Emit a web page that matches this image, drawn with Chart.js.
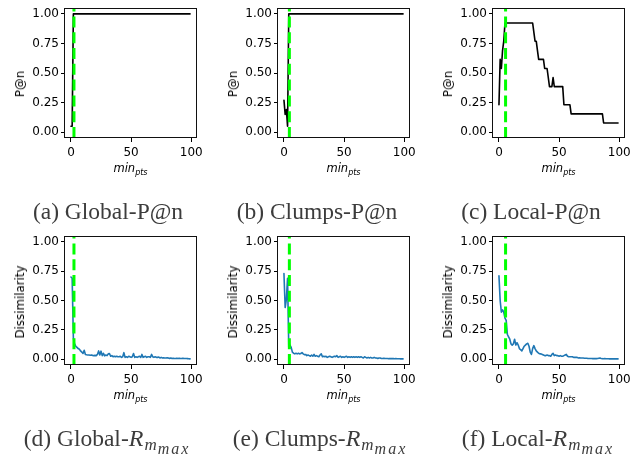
<!DOCTYPE html>
<html>
<head>
<meta charset="utf-8">
<script src="https://cdn.jsdelivr.net/npm/chart.js@4.4.0/dist/chart.umd.min.js"></script>
<style>
  html, body { margin:0; padding:0; background:#fff; }
  body { width:644px; height:458px; position:relative; overflow:hidden; }
  canvas { position:absolute; }
  .ylab { position:absolute; font-family:"DejaVu Sans"; font-size:11.8px; color:#000; white-space:nowrap;
          transform:translate(-50%,-50%) rotate(-90deg); line-height:12px; }
  .xlab { position:absolute; font-family:"DejaVu Sans"; font-size:11.5px; font-style:italic; color:#000;
          white-space:nowrap; line-height:11.5px; transform:translateX(-50%); }
  .xlab .sub { font-size:8px; position:relative; top:2.5px; }
  .cap { position:absolute; font-family:"Liberation Serif"; font-size:23.5px; color:#3c3c3c; white-space:nowrap;
         line-height:22px; transform:translateX(-50%); }
  .cap .r { font-style:italic; font-size:24px; letter-spacing:1px; }
  .cap .s1 { font-size:17px; position:relative; top:4.5px; font-style:italic; letter-spacing:1px; }
  .cap .s2 { font-size:16px; position:relative; top:8.5px; font-style:italic; letter-spacing:2px; }
</style>
</head>
<body>
<script>
// ---- data ----
const minPts = [0,1,2,3,4,5,6,7,8,9,10,11,12,13,14,15,16,17,18,19,20,21,22,23,24,25,26,27,28,29,
  30,31,32,33,34,35,36,37,38,39,40,41,42,43,44,45,46,47,48,49,50,51,52,53,54,55,56,57,58,59,
  60,61,62,63,64,65,66,67,68,69,70,71,72,73,74,75,76,77,78,79,80,81,82,83,84,85,86,87,88,89,
  90,91,92,93,94,95,96,97,98,99];
const xTickValues = [0, 50, 100];
const yTickValues = [0, 0.25, 0.5, 0.75, 1];
const chosenMinPts = [2.5, 4.5, 5.5]; // Global, Clumps, Local (green dashed line)

const globalPn = [0.05,0.05,1,1,1,1,1,1,1,1, 1,1,1,1,1,1,1,1,1,1, 1,1,1,1,1,1,1,1,1,1,
  1,1,1,1,1,1,1,1,1,1, 1,1,1,1,1,1,1,1,1,1, 1,1,1,1,1,1,1,1,1,1, 1,1,1,1,1,1,1,1,1,1,
  1,1,1,1,1,1,1,1,1,1, 1,1,1,1,1,1,1,1,1,1, 1,1,1,1,1,1,1,1,1,1];
const clumpsPn = [0.27,0.15,0.19,0.05,1,1,1,1,1,1, 1,1,1,1,1,1,1,1,1,1, 1,1,1,1,1,1,1,1,1,1,
  1,1,1,1,1,1,1,1,1,1, 1,1,1,1,1,1,1,1,1,1, 1,1,1,1,1,1,1,1,1,1, 1,1,1,1,1,1,1,1,1,1,
  1,1,1,1,1,1,1,1,1,1, 1,1,1,1,1,1,1,1,1,1, 1,1,1,1,1,1,1,1,1,1];
const localPn = [0.231,0.615,0.538,0.692,0.769,0.923,0.923,0.923,0.923,0.923,
  0.923,0.923,0.923,0.923,0.923,0.923,0.923,0.923,0.923,0.923,
  0.923,0.923,0.923,0.923,0.923,0.923,0.923,0.923,0.923,0.846,
  0.769,0.769,0.692,0.615,0.615,0.615,0.615,0.615,0.538,0.538,
  0.538,0.462,0.385,0.385,0.385,0.462,0.385,0.385,0.385,0.385,
  0.385,0.385,0.385,0.385,0.231,0.231,0.231,0.231,0.231,0.231,
  0.154,0.154,0.154,0.154,0.154,0.154,0.154,0.154,0.154,0.154,
  0.154,0.154,0.154,0.154,0.154,0.154,0.154,0.154,0.154,0.154,
  0.154,0.154,0.154,0.154,0.154,0.154,0.154,0.077,0.077,0.077,
  0.077,0.077,0.077,0.077,0.077,0.077,0.077,0.077,0.077,0.077];

const globalDis = [0.70,0.69,0.18,0.13,0.11,0.10,0.09,0.085,0.07,0.06,
  0.048,0.075,0.04,0.037,0.035,0.035,0.033,0.035,0.032,0.03,
  0.032,0.03,0.04,0.07,0.035,0.068,0.03,0.05,0.028,0.035,
  0.03,0.045,0.048,0.025,0.03,0.02,0.025,0.02,0.025,0.02,
  0.02,0.025,0.015,0.02,0.055,0.015,0.02,0.015,0.025,0.02,
  0.015,0.02,0.048,0.015,0.02,0.015,0.02,0.025,0.015,0.04,
  0.015,0.02,0.025,0.015,0.02,0.02,0.015,0.04,0.02,0.015,
  0.02,0.015,0.015,0.018,0.01,0.015,0.01,0.012,0.01,0.01,
  0.012,0.01,0.005,0.01,0.005,0.008,0.005,0.005,0.008,0.005,
  0.008,0.005,0.005,0.008,0.005,0.005,0.005,0.004,0.003,0.002];
const clumpsDis = [0.73,0.44,0.51,0.69,0.10,0.12,0.10,0.06,0.05,0.045,
  0.05,0.045,0.05,0.045,0.048,0.056,0.045,0.038,0.04,0.03,
  0.035,0.03,0.025,0.035,0.025,0.04,0.025,0.03,0.025,0.02,
  0.035,0.045,0.02,0.025,0.02,0.025,0.015,0.02,0.025,0.02,
  0.015,0.02,0.025,0.02,0.03,0.015,0.02,0.025,0.015,0.02,
  0.015,0.02,0.025,0.015,0.02,0.015,0.02,0.015,0.02,0.015,
  0.02,0.015,0.02,0.015,0.02,0.015,0.01,0.02,0.015,0.01,
  0.015,0.01,0.015,0.01,0.01,0.015,0.01,0.01,0.005,0.01,
  0.01,0.005,0.005,0.008,0.005,0.005,0.006,0.004,0.005,0.004,
  0.005,0.004,0.003,0.004,0.003,0.003,0.003,0.002,0.002,0.002];
const localDis = [0.71,0.50,0.40,0.42,0.40,0.35,0.33,0.21,0.19,0.17,
  0.13,0.12,0.13,0.17,0.12,0.14,0.12,0.09,0.08,0.07,
  0.09,0.11,0.12,0.13,0.135,0.11,0.06,0.04,0.09,0.115,
  0.09,0.07,0.06,0.05,0.045,0.045,0.04,0.035,0.03,0.03,
  0.035,0.03,0.03,0.025,0.04,0.05,0.03,0.035,0.03,0.03,
  0.025,0.03,0.025,0.025,0.03,0.035,0.04,0.025,0.02,0.02,
  0.02,0.02,0.015,0.015,0.015,0.015,0.01,0.012,0.01,0.01,
  0.01,0.008,0.007,0.008,0.006,0.006,0.005,0.005,0.004,0.005,
  0.004,0.004,0.005,0.008,0.01,0.006,0.004,0.003,0.004,0.003,
  0.003,0.003,0.002,0.003,0.002,0.002,0.002,0.002,0.002,0.002];

// ---- layout of the six panels ----
const panels = [
  { vals: globalPn,  color:'#000000', chosen: chosenMinPts[0], ylabel:'P@n', box:[65,8,131,130],   ylabY:84 },
  { vals: clumpsPn,  color:'#000000', chosen: chosenMinPts[1], ylabel:'P@n', box:[278,8,131,130],  ylabY:84 },
  { vals: localPn,   color:'#000000', chosen: chosenMinPts[2], ylabel:'P@n', box:[493,8,131,130],  ylabY:84 },
  { vals: globalDis, color:'#1f77b4', chosen: chosenMinPts[0], ylabel:'Dissimilarity', box:[65,236,131,129],  ylabY:302 },
  { vals: clumpsDis, color:'#1f77b4', chosen: chosenMinPts[1], ylabel:'Dissimilarity', box:[278,236,131,129], ylabY:302 },
  { vals: localDis,  color:'#1f77b4', chosen: chosenMinPts[2], ylabel:'Dissimilarity', box:[493,236,131,129], ylabY:302 }
];
const mathR = '<span class="r">R</span><span class="s1">m</span><span class="s2">max</span>';
const captions = [
  { html:'(a) Global-P@n', cx:108, base:218 },
  { html:'(b) Clumps-P@n', cx:317, base:218 },
  { html:'(c) Local-P@n',  cx:531, base:218 },
  { html:'(d) Global-' + mathR, cx:107, base:445 },
  { html:'(e) Clumps-' + mathR, cx:320, base:445 },
  { html:'(f) Local-' + mathR,  cx:538, base:445 }
];

const tickFont = { family:'DejaVu Sans', size:12 };

const framePlugin = {
  id:'frame',
  afterDatasetsDraw(chart, args, opts) {
    const ctx = chart.ctx, a = chart.chartArea;
    const xs = chart.scales.x;
    const px = xs.getPixelForValue(opts.chosen);
    ctx.save();
    ctx.beginPath();
    ctx.rect(a.left, a.top, a.right - a.left, a.bottom - a.top);
    ctx.clip();
    ctx.strokeStyle = '#00ff00';
    ctx.lineWidth = 3;
    ctx.setLineDash([11, 4.8]);
    ctx.beginPath();
    ctx.moveTo(px, a.bottom);
    ctx.lineTo(px, a.top);
    ctx.stroke();
    ctx.restore();
  },
  afterDraw(chart) {
    const ctx = chart.ctx, a = chart.chartArea;
    ctx.save();
    ctx.strokeStyle = '#111';
    ctx.lineWidth = 1;
    ctx.strokeRect(Math.round(a.left) - 0.5, Math.round(a.top) + 0.5,
                   Math.round(a.right - a.left) + 1, Math.round(a.bottom - a.top) - 1);
    ctx.restore();
  }
};

function buildConfig(p) {
  return {
    type:'line',
    data:{ datasets:[{
      data: minPts.map((x, i) => ({ x: x, y: p.vals[i] })),
      borderColor: p.color, borderWidth: 1.6, pointRadius: 0, fill: false, tension: 0,
      borderJoinStyle: 'round', borderCapStyle: 'round'
    }]},
    options:{
      responsive:false, animation:false, devicePixelRatio:1,
      layout:{ padding:{ top:12, right:14, bottom:0, left:0 } },
      plugins:{ legend:{display:false}, tooltip:{enabled:false}, title:{display:false}, frame:{ chosen:p.chosen } },
      scales:{
        x:{ type:'linear', min:-4.95, max:103.95,
            afterBuildTicks: s => { s.ticks = xTickValues.map(v => ({ value:v })); },
            afterFit: s => { s.height = 40; },
            ticks:{ font:tickFont, color:'#000', padding:4, maxRotation:0, autoSkip:false,
                    callback: v => String(v) },
            grid:{ display:true, drawOnChartArea:false, drawTicks:true, tickLength:4, tickColor:'#000', tickWidth:1 },
            border:{ display:false } },
        y:{ type:'linear', min:-0.05, max:1.05,
            afterBuildTicks: s => { s.ticks = yTickValues.map(v => ({ value:v })); },
            afterFit: s => { s.width = 60; },
            ticks:{ font:tickFont, color:'#000', padding:2, autoSkip:false,
                    callback: v => Number(v).toFixed(2) },
            grid:{ display:true, drawOnChartArea:false, drawTicks:true, tickLength:4, tickColor:'#000', tickWidth:1 },
            border:{ display:false } }
      }
    },
    plugins:[framePlugin]
  };
}

panels.forEach(p => {
  const [bl, bt, bw, bh] = p.box;
  const cv = document.createElement('canvas');
  cv.width = 210; cv.height = 200;
  cv.style.width = '210px'; cv.style.height = '200px';
  document.body.appendChild(cv);
  let ch = new Chart(cv, buildConfig(p));
  let a = ch.chartArea;
  const W = 210 + (bw - (a.right - a.left));
  const H = 200 + (bh - (a.bottom - a.top));
  ch.destroy();
  cv.width = Math.round(W); cv.height = Math.round(H);
  cv.style.width = Math.round(W) + 'px'; cv.style.height = Math.round(H) + 'px';
  ch = new Chart(cv, buildConfig(p));
  a = ch.chartArea;
  cv.style.left = Math.round(bl - a.left) + 'px';
  cv.style.top = Math.round(bt - a.top) + 'px';

  const yl = document.createElement('div');
  yl.className = 'ylab';
  yl.textContent = p.ylabel;
  yl.style.left = (bl - 45) + 'px';
  yl.style.top = p.ylabY + 'px';
  document.body.appendChild(yl);

  const xl = document.createElement('div');
  xl.className = 'xlab';
  xl.innerHTML = 'min<span class="sub">pts</span>';
  xl.style.left = (bl + bw / 2) + 'px';
  xl.style.top = (bt + bh + 34.7 - 9.7) + 'px';
  document.body.appendChild(xl);
});

captions.forEach(c => {
  const d = document.createElement('div');
  d.className = 'cap';
  d.innerHTML = c.html;
  d.style.left = c.cx + 'px';
  d.style.top = (c.base - 18.4) + 'px';
  document.body.appendChild(d);
});
</script>
</body>
</html>
